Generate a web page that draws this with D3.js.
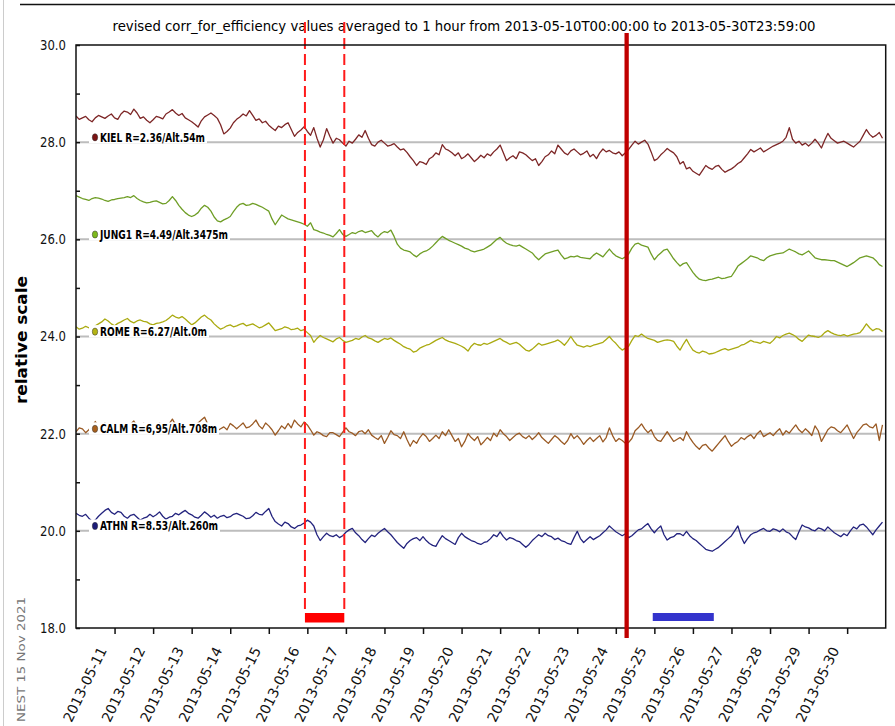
<!DOCTYPE html>
<html>
<head>
<meta charset="utf-8">
<script src="https://cdn.jsdelivr.net/npm/d3@7"></script>
<style>
  body { margin: 0; background: #fff; }
  svg { display: block; }
  text { font-family: "DejaVu Sans", sans-serif; }
</style>
</head>
<body>
<svg id="chart" width="895" height="726"></svg>
<script>
// Stations, their labels and the baseline each trace is offset to
const stations = ["KIEL", "JUNG1", "ROME", "CALM", "ATHN"];
const stationLabels = [
  "KIEL R=2.36/Alt.54m",
  "JUNG1 R=4.49/Alt.3475m",
  "ROME R=6.27/Alt.0m",
  "CALM R=6,95/Alt.708m",
  "ATHN R=8.53/Alt.260m"
];
const baseLevels = [28, 26, 24, 22, 20];
const lineColors = ["#7d2626", "#6f9e26", "#aaaa10", "#9a5a24", "#23237e"];
const dotColors  = ["#7a1414", "#7cb81c", "#b4b414", "#a8601c", "#1c1c78"];

// Corrected efficiency, one value every 2 hours from 2013-05-10T00:00
const kiel = [
  28.54,28.47,28.50,28.53,28.46,28.42,28.50,28.55,28.52,28.49,28.54,28.58,28.50,28.47,28.58,28.64,28.62,28.57,28.68,28.60,28.49,28.52,28.45,28.40,28.46,28.53,28.51,28.48,28.58,28.62,28.67,28.60,
  28.55,28.59,28.50,28.46,28.42,28.37,28.31,28.44,28.52,28.56,28.60,28.55,28.49,28.36,28.17,28.22,28.29,28.40,28.47,28.52,28.58,28.54,28.65,28.55,28.45,28.48,28.40,28.43,28.35,28.29,28.24,28.33,
  28.30,28.36,28.40,28.26,28.12,28.20,28.25,28.32,28.22,28.14,28.30,28.08,27.90,28.05,28.28,28.12,27.98,28.08,28.05,27.98,27.92,28.02,27.98,28.06,28.15,28.10,28.24,28.08,27.95,27.92,28.00,28.04,
  27.98,27.92,27.94,27.97,27.90,27.84,27.86,27.79,27.70,27.62,27.52,27.60,27.58,27.54,27.66,27.70,27.78,27.74,27.95,27.86,27.83,27.78,27.72,27.78,27.66,27.70,27.76,27.68,27.60,27.66,27.73,27.68,
  27.76,27.72,27.80,27.86,27.94,27.78,27.62,27.68,27.72,27.66,27.80,27.78,27.74,27.68,27.62,27.66,27.52,27.60,27.70,27.74,27.82,27.76,27.94,27.86,27.78,27.74,27.82,27.86,27.80,27.74,27.77,27.82,
  27.70,27.75,27.66,27.78,27.86,27.80,27.83,27.78,27.76,27.80,27.72,27.78,27.85,27.94,28.02,27.96,28.00,28.04,27.96,27.80,27.62,27.66,27.74,27.80,27.87,27.82,27.78,27.70,27.55,27.60,27.45,27.48,
  27.40,27.36,27.32,27.42,27.52,27.47,27.44,27.50,27.52,27.44,27.38,27.42,27.45,27.50,27.56,27.60,27.68,27.76,27.85,27.80,27.84,27.88,27.80,27.84,27.88,27.92,27.95,27.98,28.02,28.10,28.30,28.06,
  27.98,28.02,27.94,27.98,27.92,27.98,28.06,27.98,27.88,28.04,28.18,28.08,28.03,27.98,28.00,28.02,27.98,27.94,27.90,27.96,28.02,28.14,28.26,28.16,28.10,28.14,28.20,28.08
];
const jung1 = [
  26.90,26.87,26.84,26.82,26.80,26.84,26.86,26.85,26.83,26.80,26.78,26.81,26.82,26.84,26.85,26.86,26.88,26.86,26.90,26.84,26.80,26.77,26.75,26.76,26.78,26.79,26.76,26.73,26.74,26.80,26.88,26.80,
  26.70,26.62,26.55,26.50,26.47,26.50,26.55,26.64,26.70,26.66,26.58,26.46,26.38,26.36,26.40,26.43,26.47,26.57,26.66,26.72,26.74,26.70,26.71,26.74,26.72,26.69,26.66,26.62,26.58,26.42,26.30,26.40,
  26.50,26.46,26.42,26.40,26.38,26.36,26.34,26.31,26.27,26.34,26.20,26.18,26.15,26.13,26.10,26.08,26.05,26.12,26.20,26.10,26.06,26.10,26.14,26.12,26.16,26.18,26.14,26.16,26.18,26.10,26.05,26.12,
  26.16,26.14,26.19,26.06,25.90,25.82,25.78,25.76,25.74,25.68,25.64,25.70,25.74,25.76,25.80,25.86,25.93,26.00,26.06,26.02,25.98,25.95,25.92,25.89,25.86,25.82,25.80,25.76,25.74,25.76,25.78,25.80,
  25.84,25.88,25.94,26.00,26.04,25.97,25.92,25.89,25.87,25.86,25.88,25.84,25.80,25.76,25.72,25.64,25.58,25.64,25.70,25.72,25.74,25.76,25.78,25.68,25.60,25.62,25.65,25.64,25.66,25.63,25.62,25.61,
  25.60,25.67,25.72,25.68,25.64,25.72,25.80,25.72,25.66,25.63,25.60,25.64,25.70,25.82,25.90,25.92,25.88,25.86,25.84,25.70,25.58,25.66,25.72,25.78,25.80,25.70,25.60,25.52,25.45,25.50,25.52,25.42,
  25.32,25.24,25.18,25.16,25.15,25.17,25.18,25.20,25.22,25.19,25.20,25.22,25.24,25.34,25.45,25.50,25.55,25.60,25.66,25.64,25.62,25.58,25.56,25.62,25.66,25.68,25.70,25.71,25.72,25.76,25.80,25.77,
  25.74,25.70,25.68,25.72,25.76,25.69,25.62,25.60,25.58,25.58,25.57,25.56,25.56,25.53,25.50,25.47,25.44,25.48,25.52,25.57,25.62,25.64,25.66,25.64,25.62,25.56,25.48,25.44
];
const rome = [
  24.20,24.15,24.17,24.21,24.18,24.16,24.22,24.26,24.30,24.36,24.32,24.26,24.22,24.27,24.30,24.34,24.37,24.31,24.28,24.32,24.34,24.31,24.30,24.26,24.24,24.27,24.28,24.30,24.33,24.38,24.44,24.40,
  24.38,24.41,24.36,24.30,24.24,24.28,24.34,24.40,24.44,24.38,24.34,24.26,24.20,24.15,24.18,24.22,24.24,24.20,24.22,24.25,24.27,24.22,24.24,24.26,24.22,24.18,24.20,24.24,24.28,24.20,24.12,24.14,
  24.16,24.20,24.18,24.14,24.15,24.17,24.12,24.14,24.08,24.02,23.88,23.96,24.02,23.98,23.95,23.92,23.89,23.95,23.98,23.92,23.88,23.90,23.92,23.96,23.94,23.99,24.02,23.97,23.95,23.91,23.88,23.92,
  23.96,23.94,23.97,23.92,23.88,23.84,23.79,23.76,23.74,23.68,23.70,23.76,23.79,23.82,23.84,23.88,23.92,23.95,23.98,23.93,23.90,23.88,23.86,23.83,23.80,23.76,23.70,23.80,23.86,23.83,23.82,23.86,
  23.84,23.87,23.90,23.93,23.96,23.91,23.88,23.84,23.86,23.88,23.84,23.78,23.72,23.70,23.74,23.80,23.86,23.82,23.84,23.86,23.88,23.90,23.93,23.88,23.82,23.90,24.00,23.90,23.82,23.80,23.78,23.81,
  23.79,23.82,23.84,23.86,23.88,23.94,24.00,23.92,23.86,23.78,23.72,23.76,23.80,23.92,24.02,24.00,24.05,24.00,23.96,23.94,23.92,23.88,23.90,23.92,23.93,23.92,23.90,23.80,23.72,23.84,23.94,23.82,
  23.72,23.68,23.66,23.70,23.68,23.64,23.65,23.67,23.70,23.73,23.75,23.72,23.74,23.76,23.78,23.82,23.84,23.88,23.92,23.89,23.88,23.86,23.90,23.88,23.86,23.92,24.00,23.97,24.02,24.05,24.07,24.04,
  24.00,23.94,23.90,23.97,24.03,24.01,24.00,23.98,24.01,24.08,24.12,24.08,24.05,24.03,24.02,24.04,24.01,24.03,24.05,24.06,24.08,24.16,24.26,24.18,24.12,24.16,24.15,24.10
];
const calm = [
  22.04,22.12,22.10,22.02,22.08,22.16,22.25,22.16,22.12,22.22,22.18,22.10,22.06,22.14,22.20,22.10,22.14,22.20,22.26,22.16,22.10,22.22,22.18,22.12,22.08,22.16,22.22,22.14,22.12,22.20,22.30,22.18,
  22.10,22.20,22.16,22.10,22.05,22.12,22.22,22.28,22.34,22.20,22.12,22.18,22.06,22.10,22.14,22.08,22.21,22.16,22.10,22.16,22.22,22.12,22.14,22.20,22.28,22.16,22.10,22.22,22.16,22.08,21.97,22.06,
  22.16,22.10,22.21,22.12,22.28,22.20,22.14,22.24,22.18,22.08,21.97,22.04,22.01,21.96,21.94,22.02,22.02,21.98,21.94,22.03,22.12,22.04,22.01,21.96,22.04,22.06,22.00,22.08,21.97,21.92,21.88,21.96,
  21.80,21.92,22.06,21.98,21.96,21.90,22.04,21.88,21.74,21.86,21.80,21.92,22.00,21.94,21.84,21.90,21.97,21.90,22.04,21.96,22.08,21.96,21.84,21.90,21.73,21.84,22.00,21.92,21.86,21.94,21.77,21.84,
  21.92,21.86,22.01,21.94,22.08,22.00,21.94,21.86,21.92,21.98,22.01,21.94,21.90,21.96,21.88,21.94,22.02,21.92,21.86,21.80,21.88,21.96,21.91,21.84,21.78,21.86,22.00,21.90,21.96,21.88,21.78,21.86,
  21.92,21.84,21.90,21.96,21.83,21.92,22.12,21.96,21.84,21.90,21.86,21.80,21.82,21.90,22.06,22.12,22.20,22.10,22.02,22.08,21.94,21.86,21.84,21.94,22.04,21.94,21.84,21.88,21.92,21.86,22.04,21.92,
  21.82,21.74,21.68,21.76,21.78,21.70,21.64,21.72,21.80,21.88,21.96,21.84,21.74,21.80,21.84,21.92,21.88,21.94,21.98,21.90,22.00,22.06,21.94,21.98,22.02,21.96,22.04,22.10,21.97,22.06,22.01,22.10,
  22.18,22.08,22.02,22.10,22.04,21.96,22.16,22.06,21.84,21.96,22.08,22.14,22.12,22.06,22.02,22.10,22.18,22.04,21.90,22.02,22.10,22.18,22.20,22.14,22.12,22.20,21.86,22.18
];
const athn = [
  20.36,20.32,20.30,20.34,20.26,20.20,20.22,20.30,20.36,20.42,20.46,20.38,20.34,20.40,20.38,20.30,20.26,20.32,20.34,20.28,20.22,20.26,20.28,20.34,20.29,20.33,20.39,20.30,20.24,20.28,20.30,20.36,
  20.33,20.38,20.42,20.36,20.33,20.28,20.26,20.32,20.39,20.34,20.28,20.32,20.26,20.30,20.32,20.27,20.29,20.34,20.36,20.33,20.30,20.25,20.26,20.31,20.38,20.34,20.33,20.40,20.46,20.30,20.19,20.14,
  20.10,20.18,20.15,20.08,20.05,20.10,20.12,20.16,20.22,20.18,20.10,19.92,19.80,19.88,19.95,19.90,19.88,19.92,19.86,19.90,19.97,20.02,20.05,19.96,19.90,19.82,19.76,19.84,19.91,19.88,19.95,20.00,
  20.05,19.98,19.92,19.84,19.76,19.70,19.64,19.74,19.80,19.84,19.86,19.80,19.88,19.80,19.74,19.70,19.68,19.80,19.90,19.84,19.80,19.76,19.72,19.86,19.95,19.88,19.84,19.80,19.78,19.74,19.72,19.76,
  19.78,19.84,19.92,19.88,19.98,19.88,19.81,19.86,19.84,19.80,19.78,19.72,19.66,19.72,19.80,19.86,19.92,19.88,19.95,19.90,19.88,19.82,19.85,19.80,19.78,19.74,19.72,19.86,19.99,19.84,19.76,19.82,
  19.88,19.82,19.86,19.90,19.96,20.02,20.10,20.04,19.98,19.94,19.90,19.94,19.86,19.90,19.96,20.02,20.04,20.10,20.15,20.04,19.96,20.04,20.10,19.92,19.81,19.86,19.88,19.94,19.94,19.90,19.99,19.90,
  19.84,19.80,19.74,19.68,19.62,19.60,19.58,19.62,19.66,19.72,19.78,19.84,19.90,20.00,20.10,19.88,19.74,19.84,19.92,19.96,19.98,20.02,20.05,20.00,19.99,20.04,20.02,19.98,20.04,19.98,19.95,19.88,
  19.82,19.98,20.12,20.08,20.06,20.02,20.00,20.06,20.04,20.00,20.08,20.02,19.96,19.92,19.88,19.94,19.90,20.00,20.08,20.04,20.12,20.14,20.08,20.00,19.92,20.02,20.10,20.18
];
const seriesValues = [kiel, jung1, rome, calm, athn];

// Time range, y range and tick labels
const periodStart = "2013-05-10T00:00:00Z";
const periodEnd = "2013-05-31T00:00:00Z";
const stepHours = 2;
const yDomain = [18, 30];
const yTicks = [18, 19, 20, 21, 22, 23, 24, 25, 26, 27, 28, 29, 30];
const dayTicks = [
  "2013-05-11","2013-05-12","2013-05-13","2013-05-14","2013-05-15","2013-05-16","2013-05-17",
  "2013-05-18","2013-05-19","2013-05-20","2013-05-21","2013-05-22","2013-05-23","2013-05-24",
  "2013-05-25","2013-05-26","2013-05-27","2013-05-28","2013-05-29","2013-05-30"
];

// Highlighted intervals and event marker
const eventWindow = ["2013-05-15T22:30:00Z", "2013-05-16T23:00:00Z"];
const eventMarker = "2013-05-24T06:45:00Z";
const quietWindow = ["2013-05-24T23:00:00Z", "2013-05-26T13:00:00Z"];

const titleText = "revised corr_for_efficiency values averaged to 1 hour from 2013-05-10T00:00:00 to 2013-05-30T23:59:00";

// ---- layout ----
const plot = { left: 76, right: 885.7, top: 45, bottom: 628 };
const svg = d3.select("#chart");
svg.append("rect").attr("width", 895).attr("height", 726).attr("fill", "#fff");

const x = d3.scaleUtc()
  .domain([new Date(periodStart), new Date(periodEnd)])
  .range([plot.left, plot.right]);
const y = d3.scaleLinear().domain(yDomain).range([plot.bottom, plot.top]);

const t0 = new Date(periodStart).getTime();
const timeAt = i => new Date(t0 + i * stepHours * 3600e3);

// page frame edges
svg.append("line").attr("x1", 20).attr("x2", 895).attr("y1", 4.5).attr("y2", 4.5)
  .attr("stroke", "#111").attr("stroke-width", 1.5);
svg.append("line").attr("x1", 3.5).attr("x2", 3.5).attr("y1", 0).attr("y2", 726)
  .attr("stroke", "#ccc").attr("stroke-width", 1);

// title
svg.append("text")
  .attr("x", 464).attr("y", 31)
  .attr("text-anchor", "middle")
  .attr("font-size", 14)
  .attr("textLength", 703).attr("lengthAdjust", "spacingAndGlyphs")
  .text(titleText);

// baseline grid lines
svg.append("g").selectAll("line").data(baseLevels).join("line")
  .attr("x1", plot.left).attr("x2", plot.right)
  .attr("y1", d => y(d)).attr("y2", d => y(d))
  .attr("stroke", "#bdbdbd").attr("stroke-width", 2);

// traces
svg.append("clipPath").attr("id", "plotClip").append("rect")
  .attr("x", plot.left).attr("y", plot.top)
  .attr("width", plot.right - plot.left).attr("height", plot.bottom - plot.top);

const line = d3.line().x((d, i) => x(timeAt(i))).y(d => y(d));
svg.append("g").attr("clip-path", "url(#plotClip)")
  .selectAll("path").data(seriesValues).join("path")
  .attr("d", d => line(d))
  .attr("fill", "none")
  .attr("stroke", (d, i) => lineColors[i])
  .attr("stroke-width", 1.3)
  .attr("stroke-linejoin", "round");

// station labels with a white backing
const labelWidths = [105, 128, 107, 117, 118];
const labels = svg.append("g").selectAll("g").data(stations).join("g")
  .attr("transform", (d, i) => `translate(0,${y(baseLevels[i] + 0.1)})`);
labels.append("rect")
  .attr("x", 89).attr("y", -6.5)
  .attr("width", (d, i) => labelWidths[i] + 13).attr("height", 12.5)
  .attr("fill", "#fff");
labels.append("ellipse")
  .attr("cx", 95).attr("cy", 0).attr("rx", 2.7).attr("ry", 3.6)
  .attr("fill", (d, i) => dotColors[i]).attr("stroke", "#333").attr("stroke-width", 0.5);
labels.append("text")
  .attr("x", 100).attr("y", 4.3)
  .attr("font-size", 11.5).attr("font-weight", "bold")
  .attr("textLength", (d, i) => labelWidths[i]).attr("lengthAdjust", "spacingAndGlyphs")
  .text((d, i) => stationLabels[i]);

// event window: dashed bounds and bar
const evX = eventWindow.map(d => x(new Date(d)));
svg.append("g").selectAll("line").data(evX).join("line")
  .attr("x1", d => d).attr("x2", d => d)
  .attr("y1", 22).attr("y2", 614)
  .attr("stroke", "#ff1a1a").attr("stroke-width", 2)
  .attr("stroke-dasharray", "11,5");
svg.append("rect")
  .attr("x", evX[0]).attr("y", 613)
  .attr("width", evX[1] - evX[0]).attr("height", 9.5)
  .attr("fill", "#ff0000");

// quiet window bar
const qX = quietWindow.map(d => x(new Date(d)));
svg.append("rect")
  .attr("x", qX[0]).attr("y", 613)
  .attr("width", qX[1] - qX[0]).attr("height", 8)
  .attr("fill", "#3333cc");

// axes frame
svg.append("rect")
  .attr("x", plot.left).attr("y", plot.top)
  .attr("width", plot.right - plot.left).attr("height", plot.bottom - plot.top)
  .attr("fill", "none").attr("stroke", "#111").attr("stroke-width", 1.5);

// y axis
const yAxis = svg.append("g").attr("transform", `translate(${plot.left},0)`)
  .call(d3.axisLeft(y).tickValues(yTicks).tickSize(-4).tickPadding(10)
    .tickFormat(d => d % 2 === 0 ? d.toFixed(1) : ""));
yAxis.select(".domain").remove();
yAxis.selectAll(".tick line").attr("stroke", "#111").attr("stroke-width", 1.5);
yAxis.selectAll(".tick text")
  .attr("font-size", 14).attr("fill", "#111")
  .filter(function () { return this.textContent !== ""; })
  .attr("textLength", 26).attr("lengthAdjust", "spacingAndGlyphs");

// x axis
const xAxis = svg.append("g").attr("transform", `translate(0,${plot.bottom})`)
  .call(d3.axisBottom(x).tickValues(dayTicks.map(d => new Date(d + "T00:00:00Z")))
    .tickSize(6).tickFormat(d3.utcFormat("%Y-%m-%d")));
xAxis.select(".domain").remove();
xAxis.selectAll(".tick line").attr("stroke", "#111").attr("stroke-width", 1.5);
xAxis.selectAll(".tick text")
  .attr("font-size", 14).attr("fill", "#111")
  .attr("text-anchor", "end")
  .attr("dy", null).attr("y", null)
  .attr("transform", "translate(-8,22) rotate(-64)");

// event marker
const mX = x(new Date(eventMarker));
svg.append("line")
  .attr("x1", mX).attr("x2", mX).attr("y1", 33).attr("y2", 638)
  .attr("stroke", "#c00000").attr("stroke-width", 4.3);

// y axis title
svg.append("text")
  .attr("transform", "translate(27,340) rotate(-90)")
  .attr("text-anchor", "middle")
  .attr("font-size", 16).attr("font-weight", "bold")
  .attr("textLength", 128).attr("lengthAdjust", "spacingAndGlyphs")
  .text("relative scale");

// production stamp
svg.append("text")
  .attr("transform", "translate(25,722) rotate(-90)")
  .attr("font-size", 11).attr("fill", "#777")
  .attr("textLength", 125).attr("lengthAdjust", "spacingAndGlyphs")
  .text("NEST 15 Nov 2021");
</script>
</body>
</html>
